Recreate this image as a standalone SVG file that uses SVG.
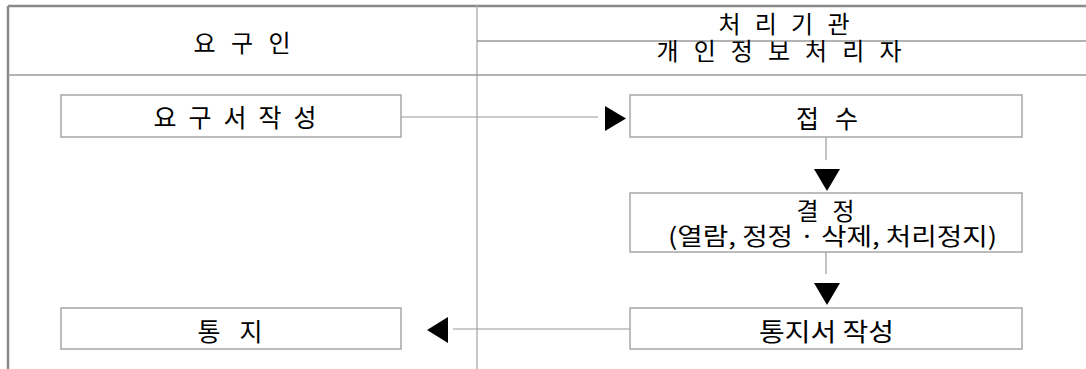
<svg xmlns="http://www.w3.org/2000/svg" width="1086" height="369" viewBox="0 0 1086 369">
<style>
  text { font-family: "Noto Sans CJK KR", "Noto Sans", sans-serif; font-weight: 400; fill: #000; text-anchor: middle; }
  .hd { font-size: 24px; }
  .bx { font-size: 25px; }
  .sm { font-size: 24px; }
  .box { fill: #fff; stroke: #a6a6a6; stroke-width: 1.5; }
  .frame { stroke: #8a8a8a; stroke-width: 2.5; fill: none; }
  .grid { stroke: #b4b4b4; stroke-width: 1.5; fill: none; }
  .hline { stroke: #9a9a9a; stroke-width: 1.5; fill: none; }
  .conn { stroke: #9a9a9a; stroke-width: 1.2; fill: none; }
  .head { fill: #000; stroke: none; }
</style>
<rect width="1086" height="369" fill="#fff"/>
<g id="frame">
  <line class="frame" x1="8" y1="6" x2="1086" y2="6"/>
  <line class="frame" x1="8" y1="6" x2="8" y2="369"/>
  <line class="grid" x1="477" y1="6" x2="477" y2="369"/>
  <line class="hline" x1="477" y1="41" x2="1086" y2="41"/>
  <line class="hline" x1="8" y1="75" x2="1086" y2="75"/>
</g>
<g id="header-requester">
  <text class="hd" x="242" y="51.5" textLength="97" lengthAdjust="spacing">요 구 인</text>
</g>
<g id="header-agency">
  <text class="hd" x="784" y="32.5" textLength="131" lengthAdjust="spacing">처 리 기 관</text>
  <text class="hd" x="779" y="60" textLength="245" lengthAdjust="spacing">개 인 정 보 처 리 자</text>
</g>
<g id="connectors">
  <line class="conn" x1="401" y1="117" x2="598" y2="117"/>
  <polygon class="head" points="605,106 626,118.5 605,131"/>
  <line class="conn" x1="826" y1="137" x2="826" y2="160"/>
  <polygon class="head" points="814,169 840,169 827,191"/>
  <line class="conn" x1="826" y1="252" x2="826" y2="274"/>
  <polygon class="head" points="814,283 840,283 827,305"/>
  <line class="conn" x1="630" y1="329" x2="453" y2="329"/>
  <polygon class="head" points="448,317 427,330 448,343"/>
</g>
<g id="node-request">
  <rect class="box" x="61" y="95" width="340" height="42"/>
  <text class="bx" x="235" y="126.5" textLength="163" lengthAdjust="spacing">요 구 서 작 성</text>
</g>
<g id="node-receive">
  <rect class="box" x="630" y="95" width="392" height="42"/>
  <text class="bx" x="827" y="127.5" textLength="62" lengthAdjust="spacing">접 수</text>
</g>
<g id="node-decision">
  <rect class="box" x="630" y="193" width="392" height="59"/>
  <text class="sm" x="825.5" y="220" textLength="58" lengthAdjust="spacing">결 정</text>
  <text class="sm" x="832.5" y="245" textLength="329" lengthAdjust="spacingAndGlyphs">(열람, 정정 · 삭제, 처리정지)</text>
</g>
<g id="node-notice-write">
  <rect class="box" x="630" y="308" width="392" height="41"/>
  <text class="bx" x="826.5" y="340.5" textLength="135" lengthAdjust="spacingAndGlyphs">통지서 작성</text>
</g>
<g id="node-notice">
  <rect class="box" x="61" y="308" width="340" height="41"/>
  <text class="bx" x="230" y="340.5" textLength="65" lengthAdjust="spacing">통 지</text>
</g>
</svg>
